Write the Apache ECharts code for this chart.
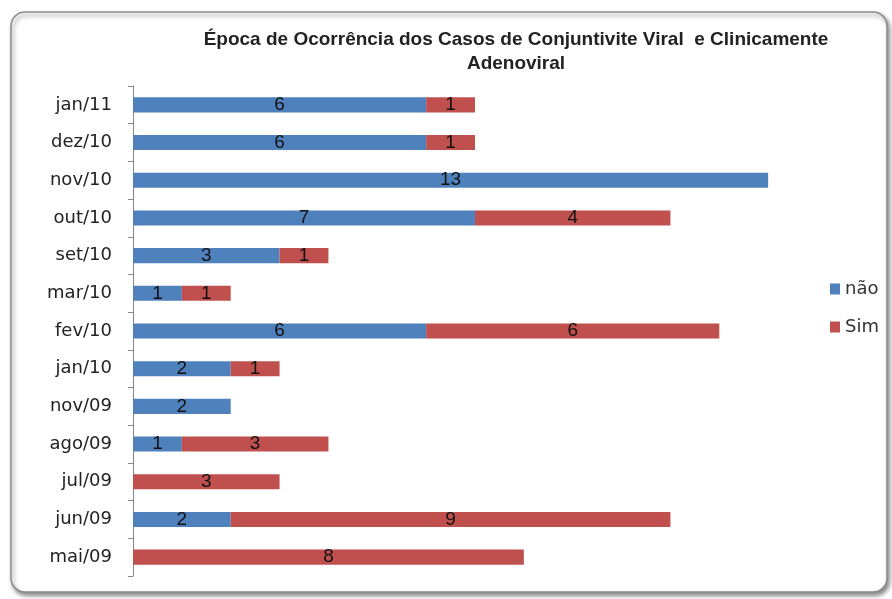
<!DOCTYPE html>
<html>
<head>
<meta charset="utf-8">
<script src="https://cdn.jsdelivr.net/npm/echarts@6/dist/echarts.min.js"></script>
<style>
  html, body { margin: 0; padding: 0; background: #ffffff; }
  #chart { width: 892px; height: 599px; }
</style>
</head>
<body>
<div id="chart"></div>
<script>
// Months, listed bottom to top
var months = ['mai/09', 'jun/09', 'jul/09', 'ago/09', 'nov/09', 'jan/10', 'fev/10',
              'mar/10', 'set/10', 'out/10', 'nov/10', 'dez/10', 'jan/11'];
// Case counts per month
var naoValues = [0, 2, 0, 1, 2, 2, 6, 1, 3, 7, 13, 6, 6];
var simValues = [8, 9, 3, 3, 0, 1, 6, 1, 1, 4, 0, 1, 1];
var seriesNames = ['não', 'Sim'];
var titleText = 'Época de Ocorrência dos Casos de Conjuntivite Viral  e Clinicamente\nAdenoviral';

var SANS = "'Liberation Sans', Arial, sans-serif";
var WIDE = "'DejaVu Sans', 'Liberation Sans', sans-serif";

var chart = echarts.init(document.getElementById('chart'), null, { renderer: 'canvas' });

function segLabel() {
  return {
    show: true,
    position: 'inside',
    color: '#111',
    fontFamily: SANS,
    fontSize: 19,
    formatter: function (p) { return p.value ? String(p.value) : ''; }
  };
}

chart.setOption({
  backgroundColor: '#ffffff',
  animation: false,
  graphic: [{
    type: 'rect',
    shape: { x: 11, y: 12, width: 876, height: 580, r: 14 },
    style: {
      fill: '#ffffff',
      stroke: '#8c8c8c',
      lineWidth: 1.5,
      shadowBlur: 4,
      shadowOffsetX: 2,
      shadowOffsetY: 3,
      shadowColor: 'rgba(0,0,0,0.45)'
    },
    z: -10
  }],
  title: {
    text: titleText,
    left: 511,
    top: 23,
    textAlign: 'center',
    textStyle: {
      fontFamily: SANS,
      fontSize: 19,
      fontWeight: 'bold',
      color: '#222',
      lineHeight: 24
    }
  },
  legend: {
    orient: 'vertical',
    left: 825,
    top: 275,
    icon: 'rect',
    itemWidth: 10,
    itemHeight: 11,
    itemGap: 20,
    textStyle: { fontFamily: WIDE, fontSize: 18, color: '#333' },
    data: seriesNames
  },
  grid: { left: 133, top: 86, width: 684, bottom: 23, containLabel: false },
  xAxis: {
    type: 'value',
    min: 0,
    max: 14,
    show: false
  },
  yAxis: {
    type: 'category',
    data: months,
    axisLine: { show: true, lineStyle: { color: '#868686', width: 1 } },
    axisTick: { show: true, length: 5, lineStyle: { color: '#868686' } },
    axisLabel: { fontFamily: WIDE, fontSize: 18, color: '#222', margin: 21 },
    splitLine: { show: false }
  },
  series: [
    {
      name: seriesNames[0],
      type: 'bar',
      stack: 'total',
      barWidth: '40%',
      itemStyle: { color: '#4F81BD' },
      label: segLabel(),
      data: naoValues
    },
    {
      name: seriesNames[1],
      type: 'bar',
      stack: 'total',
      barWidth: '40%',
      itemStyle: { color: '#C0504D' },
      label: segLabel(),
      data: simValues
    }
  ]
});
</script>
</body>
</html>
